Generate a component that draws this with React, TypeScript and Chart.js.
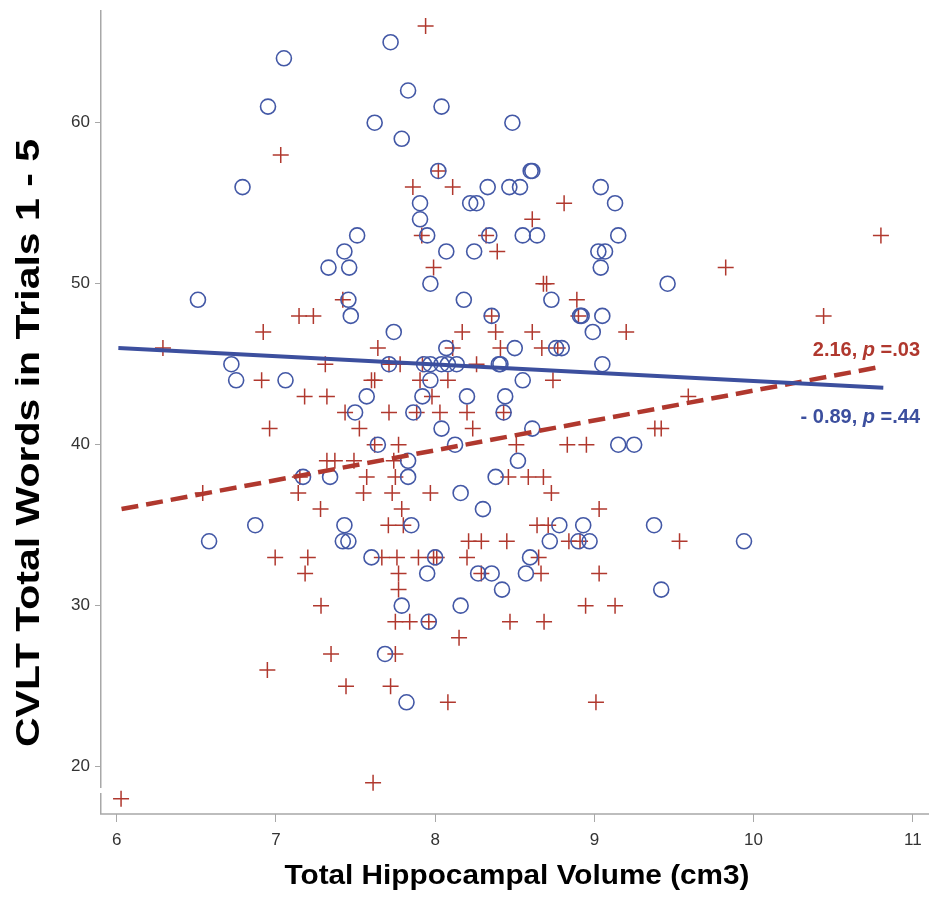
import React, { useEffect, useRef } from "react";
import { Chart, registerables } from "chart.js";

Chart.register(...registerables);

// ---- Data ----
const xTicks = [6, 7, 8, 9, 10, 11];
const yTicks = [20, 30, 40, 50, 60];

const xTitle = "Total Hippocampal Volume (cm3)";
const yTitle = "CVLT Total Words in Trials 1 - 5";

// Group shown with open circles (blue)
const circleX = [
  7.05, 6.95, 6.79, 7.33, 7.72, 7.83, 8.04, 7.62, 7.79, 8.02,
  8.33, 7.905, 8.22, 8.26, 7.905, 7.51, 7.95, 8.34, 7.43, 8.07,
  8.245, 7.46, 8.485, 8.60, 8.61, 8.466, 8.533, 9.04, 9.13, 8.55,
  8.64, 9.15, 9.025, 9.067, 9.04, 9.46, 9.15, 9.25, 9.375, 9.94,
  9.42, 6.51, 6.72, 6.75, 7.06, 7.17, 7.34, 6.87, 6.58, 7.97,
  7.455, 8.18, 7.47, 8.355, 7.74, 8.07, 7.71, 7.93, 7.97, 8.04,
  8.08, 8.135, 8.40, 8.41, 7.97, 7.57, 7.92, 8.2, 7.497, 7.863,
  8.04, 7.64, 8.125, 7.83, 7.83, 8.61, 8.52, 8.38, 8.16, 8.30,
  7.85, 7.43, 7.42, 7.455, 8.72, 8.93, 8.97, 8.78, 8.90, 7.60,
  8.0, 8.27, 8.355, 7.95, 8.42, 7.79, 8.16, 7.96, 7.685, 7.82,
  8.596, 8.57, 8.73, 8.91, 8.92, 9.05, 8.99, 8.5, 8.76, 8.795,
  9.05, 8.55, 8.44, 8.43,
];
const circleY = [
  64, 61, 56, 51, 65, 62, 61, 60, 59, 57,
  56, 55, 55, 55, 54, 53, 53, 53, 52, 52,
  52, 51, 60, 57, 57, 56, 56, 56, 55, 53,
  53, 53, 52, 52, 51, 50, 40, 40, 35, 34,
  31, 49, 45, 44, 44, 38, 38, 35, 34, 50,
  49, 49, 48, 48, 47, 46, 45, 45, 45, 45,
  45, 45, 45, 45, 44, 43, 43, 43, 42, 42,
  41, 40, 40, 39, 38, 41, 39, 38, 37, 36,
  35, 35, 34, 34, 34, 35, 34, 35, 34, 33,
  33, 32, 32, 32, 31, 30, 30, 29, 27, 24,
  33, 32, 49, 48, 48, 48, 47, 46, 46, 46,
  45, 44, 43, 42,
];

// Group shown with plus signs (red)
const crossX = [
  7.03, 7.94, 8.02, 7.86, 8.11, 7.916, 8.32, 8.39, 7.99, 8.81,
  8.61, 8.68, 8.70, 10.8, 9.825, 10.44, 9.59, 9.38, 9.42, 9.535,
  7.145, 7.235, 6.92, 6.29, 7.31, 6.91, 7.18, 7.32, 6.96, 7.32,
  7.15, 7.14, 6.54, 7.28, 6.995, 7.2, 7.183, 7.283, 7.346, 6.946,
  6.027, 7.42, 8.355, 8.17, 8.38, 7.64, 8.11, 7.71, 7.78, 7.92,
  8.26, 7.60, 7.62, 7.905, 8.08, 7.98, 7.434, 7.71, 7.884, 8.03,
  8.2, 7.524, 8.236, 7.62, 7.77, 7.37, 7.49, 7.74, 7.75, 7.73,
  7.57, 7.55, 7.97, 7.79, 7.706, 7.80, 8.21, 8.29, 7.665, 7.76,
  7.895, 7.99, 8.01, 8.2, 8.29, 7.77, 7.77, 7.75, 7.84, 7.96,
  8.15, 7.75, 7.44, 7.72, 8.08, 7.61, 8.45, 8.84, 8.91, 8.64,
  8.71, 9.03, 8.65, 8.665, 9.03, 8.945, 9.13, 8.47, 8.684, 9.01,
  8.89, 8.90, 8.61, 9.2, 8.41, 8.67, 8.77, 8.74, 8.43, 8.51,
  8.83, 8.95, 8.46, 8.585, 8.68, 8.73,
];
const crossY = [
  58, 66, 57, 56, 56, 53, 53, 52, 51, 55,
  54, 50, 50, 53, 51, 48, 43, 41, 41, 34,
  48, 48, 47, 46, 45, 44, 43, 43, 41, 39,
  38, 37, 37, 36, 33, 33, 32, 30, 27, 26,
  18, 49, 48, 47, 47, 46, 46, 45, 45, 45,
  45, 44, 44, 44, 44, 43, 42, 42, 42, 42,
  42, 41, 41, 40, 40, 39, 39, 39, 38, 37,
  38, 37, 37, 36, 35, 35, 34, 34, 33, 33,
  33, 33, 33, 33, 32, 32, 31, 29, 29, 29,
  28, 27, 25, 25, 24, 19, 34, 34, 34, 35,
  35, 36, 33, 32, 32, 30, 30, 29, 29, 24,
  49, 48, 47, 47, 46, 46, 46, 44, 42, 40,
  40, 40, 38, 38, 38, 37,
];

// Fitted regression lines (end points)
const blueFitX = [6.01, 10.815];
const blueFitY = [46.0, 43.54];
const redFitX = [6.03, 10.805];
const redFitY = [36.0, 44.85];

// Annotation texts
const redLabelParts = ["2.16, ", "p", " =.03"];
const blueLabelParts = ["- 0.89, ", "p", " =.44"];

// ---- Styles ----
const FONT = "'Liberation Sans', Arial, Helvetica, sans-serif";
const BLUE = "#4358A6";
const BLUE_LINE = "#3C4F9E";
const RED = "#B0382E";
const AXIS = "#A8A8A8";

const toPoints = (xs: number[], ys: number[]) => xs.map((x, i) => ({ x, y: ys[i] }));

const zeroPadding = (s: any) => {
  s.paddingLeft = 0;
  s.paddingRight = 0;
  s.paddingTop = 0;
  s.paddingBottom = 0;
};

// draws text centred at (cx, cy), stretched along its reading direction to the given length
const drawStretched = (ctx: any, text: string, font: string, cx: number, cy: number, length: number, rotation: number) => {
  ctx.save();
  ctx.font = font;
  const w = ctx.measureText(text).width;
  ctx.translate(cx, cy);
  ctx.rotate(rotation);
  ctx.scale(length / w, 1);
  ctx.textAlign = "center";
  ctx.textBaseline = "middle";
  ctx.fillText(text, 0, 0);
  ctx.restore();
};

const decorPlugin = {
  id: "decor",
  afterDraw(chart: any) {
    const { ctx, chartArea: ca, scales } = chart;
    const xs = scales.x;
    const ys = scales.y;
    ctx.save();
    // axis lines
    ctx.strokeStyle = AXIS;
    ctx.lineWidth = 1.5;
    ctx.beginPath();
    const ax = ca.left - 0.25;
    ctx.moveTo(ax, ca.top);
    ctx.lineTo(ax, ca.bottom - 26);
    ctx.moveTo(ax, ca.bottom - 21);
    ctx.lineTo(ax, ca.bottom);
    ctx.lineTo(ca.right, ca.bottom);
    ctx.stroke();

    // axis titles
    ctx.fillStyle = "#000";
    drawStretched(ctx, yTitle, `bold 34px ${FONT}`, 30, 443, 608, -Math.PI / 2);
    drawStretched(ctx, xTitle, `bold 27px ${FONT}`, 517, 877, 465, 0);

    // annotations
    const drawParts = (parts: string[], color: string, rightX: number, cy: number) => {
      const normal = `bold 20px ${FONT}`;
      const ital = `italic bold 20px ${FONT}`;
      const fonts = [normal, ital, normal];
      let total = 0;
      const widths = parts.map((p, i) => {
        ctx.font = fonts[i];
        const w = ctx.measureText(p).width;
        total += w;
        return w;
      });
      let cx = rightX - total;
      ctx.fillStyle = color;
      ctx.textAlign = "left";
      ctx.textBaseline = "middle";
      parts.forEach((p, i) => {
        ctx.font = fonts[i];
        ctx.fillText(p, cx, cy);
        cx += widths[i];
      });
    };
    drawParts(redLabelParts, RED, xs.getPixelForValue(11.046), ys.getPixelForValue(45.88));
    drawParts(blueLabelParts, BLUE_LINE, xs.getPixelForValue(11.046), ys.getPixelForValue(41.72));
    ctx.restore();
  },
};

export default function App() {
  const ref = useRef<HTMLCanvasElement | null>(null);
  useEffect(() => {
    document.body.style.margin = "0";
    const canvas = ref.current;
    if (!canvas) return;
    Chart.defaults.font.family = FONT;
    const chart = new Chart(canvas, {
      type: "scatter",
      data: {
        datasets: [
          {
            label: "fit blue",
            data: toPoints(blueFitX, blueFitY),
            showLine: true,
            borderColor: BLUE_LINE,
            borderWidth: 4,
            pointRadius: 0,
            fill: false,
          },
          {
            label: "fit red",
            data: toPoints(redFitX, redFitY),
            showLine: true,
            borderColor: RED,
            borderWidth: 4.5,
            borderDash: [17, 8],
            pointRadius: 0,
            fill: false,
          },
          {
            label: "circles",
            data: toPoints(circleX, circleY),
            pointStyle: "circle",
            pointRadius: 7.5,
            borderColor: BLUE,
            backgroundColor: "rgba(0,0,0,0)",
            borderWidth: 1.6,
          },
          {
            label: "crosses",
            data: toPoints(crossX, crossY),
            pointStyle: "cross",
            pointRadius: 8,
            borderColor: RED,
            backgroundColor: RED,
            borderWidth: 1.5,
          },
        ],
      },
      options: {
        responsive: false,
        animation: false,
        layout: { autoPadding: false, padding: { top: 10, left: 0, right: 0, bottom: 0 } },
        plugins: { legend: { display: false }, tooltip: { enabled: false } },
        scales: {
          x: {
            type: "linear",
            min: 5.901,
            max: 11.102,
            afterBuildTicks: (s: any) => {
              s.ticks = xTicks.map((v) => ({ value: v }));
            },
            afterFit: (s: any) => {
              s.height = 84;
              zeroPadding(s);
            },
            border: { display: false },
            grid: { drawOnChartArea: false, drawTicks: true, tickLength: 8, color: AXIS, lineWidth: 1 },
            ticks: { font: { size: 17 }, color: "#333", padding: 8, maxRotation: 0, autoSkip: false },
            title: { display: false, text: xTitle },
          },
          y: {
            type: "linear",
            min: 17.06,
            max: 67.0,
            afterBuildTicks: (s: any) => {
              s.ticks = yTicks.map((v) => ({ value: v }));
            },
            afterFit: (s: any) => {
              s.width = 101;
              zeroPadding(s);
            },
            border: { display: false },
            grid: { drawOnChartArea: false, drawTicks: true, tickLength: 6, color: AXIS, lineWidth: 1 },
            ticks: { font: { size: 17 }, color: "#333", padding: 5, autoSkip: false },
            title: { display: false, text: yTitle },
          },
        },
      },
      plugins: [decorPlugin],
    } as any);
    return () => chart.destroy();
  }, []);
  return <canvas ref={ref} width={929} height={898} style={{ display: "block" }} />;
}
